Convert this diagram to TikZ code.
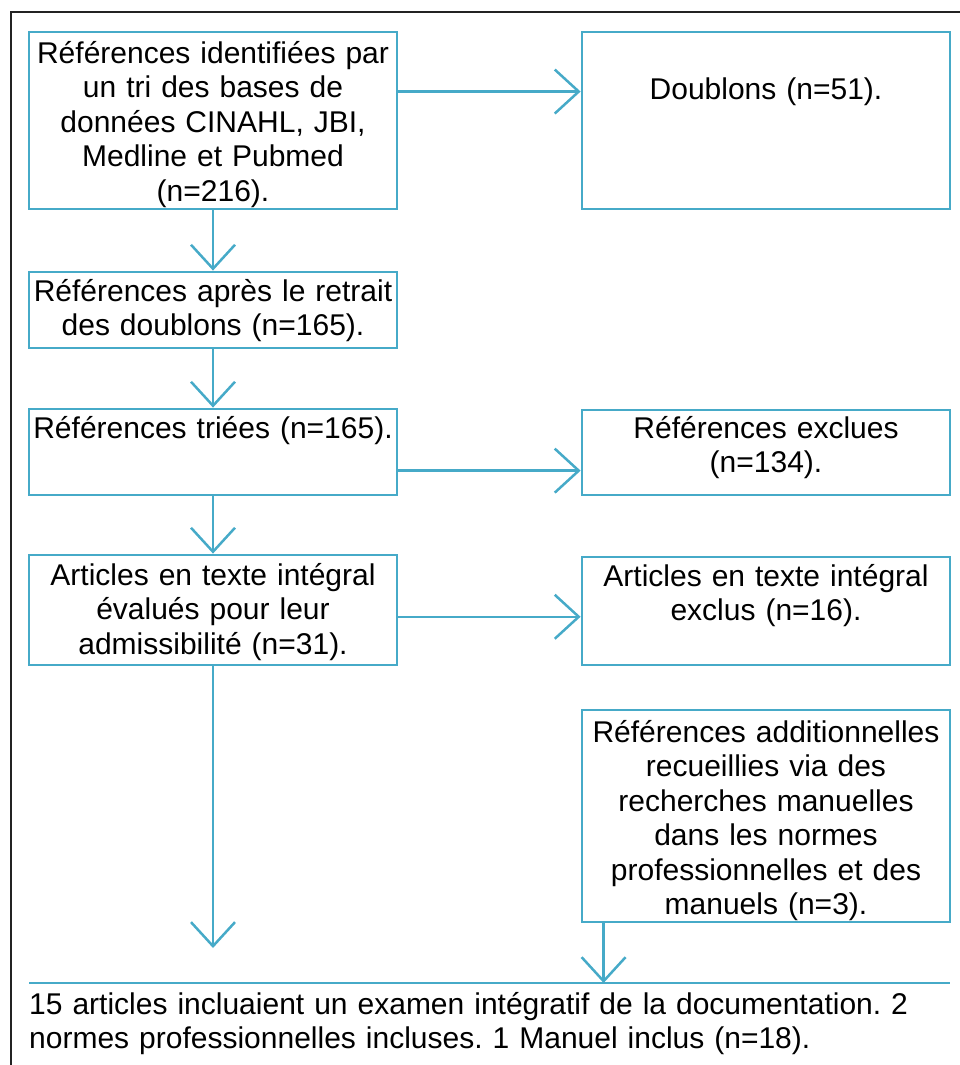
\documentclass[tikz,border=0pt]{standalone}
\usepackage{fontspec}
\setmainfont{Liberation Sans}
\frenchspacing
\usetikzlibrary{arrows.meta,calc}
\definecolor{pblue}{RGB}{70,170,200}
\definecolor{framecol}{RGB}{35,35,35}
\newcommand{\boxtxt}[4]{\parbox[c][#1][#2]{\linewidth}{\centering\vspace*{#3}\strut #4\strut}}
\tikzset{
  flowbox/.style={draw=pblue, line width=2.8pt, inner sep=0pt, text width=368pt,
    font=\fontsize{30}{34.5}\selectfont, text=black},
  arr/.style={draw=pblue, line width=2.5pt, -{Straight Barb[length=24pt,width=44pt]}},
  frameline/.style={draw=framecol, line width=2.5pt},
}
\begin{document}
\begin{tikzpicture}[x=1pt,y=-1pt]
\useasboundingbox (0,0) rectangle (960,1065);
\draw[frameline] (960,12) -- (11,12) -- (11,1065);

\node[flowbox] (b1) at (213,120.5) {\boxtxt{177pt}{t}{7pt}{Références identifiées par\\ un tri des bases de\\ données CINAHL, JBI,\\ Medline et Pubmed\\ (n=216).}};
\node[flowbox] (b0) at (766,120.5) {\boxtxt{177pt}{t}{43pt}{Doublons (n=51).}};
\node[flowbox] (b2) at (213,310) {\boxtxt{76pt}{t}{5pt}{Références après le retrait\\ des doublons (n=165).}};
\node[flowbox] (b3) at (213,452) {\boxtxt{86pt}{t}{5pt}{Références triées (n=165).}};
\node[flowbox] (b4) at (766,452.5) {\boxtxt{85pt}{t}{4pt}{Références exclues\\ (n=134).}};
\node[flowbox] (b5) at (213,610) {\boxtxt{110pt}{t}{6pt}{Articles en texte intégral\\ évalués pour leur\\ admissibilité (n=31).}};
\node[flowbox] (b6) at (766,611) {\boxtxt{108pt}{t}{5pt}{Articles en texte intégral\\ exclus (n=16).}};
\node[flowbox] (b7) at (766,816) {\boxtxt{212pt}{t}{8pt}{Références additionnelles\\ recueillies via des\\ recherches manuelles\\ dans les normes\\ professionnelles et des\\ manuels (n=3).}};

\node[anchor=north west, inner xsep=0pt, inner ysep=7pt, text width=921pt, align=left,
  font=\fontsize{30}{34.5}\selectfont, text=black] (fin) at (29,983)
  {\strut 15 articles incluaient un examen intégratif de la documentation. 2\\ normes professionnelles incluses. 1 Manuel inclus (n=18).\strut};
\draw[draw=pblue, line width=2.8pt] (fin.north west) -- (fin.north east);

% connectors
\coordinate (p01) at ($(b1.north east)!0.339!(b1.south east)$);
\draw[arr] (p01) -- (p01 -| b0.west);
\draw[arr] (b1.south) -- (b2.north);
\draw[arr] (b2.south) -- (b3.north);
\coordinate (p34) at ($(b3.north east)!0.71!(b3.south east)$);
\draw[arr] (p34) -- (p34 -| b4.west);
\draw[arr] (b3.south) -- (b5.north);
\coordinate (p56) at ($(b5.north east)!0.56!(b5.south east)$);
\draw[arr] (p56) -- (p56 -| b6.west);
\coordinate (e5) at (213,948);
\draw[arr] (b5.south) -- (e5);
\coordinate (s7) at ($(b7.south west)+(23,0)$);
\draw[arr] (s7) -- (s7 |- fin.north);
\end{tikzpicture}
\end{document}
